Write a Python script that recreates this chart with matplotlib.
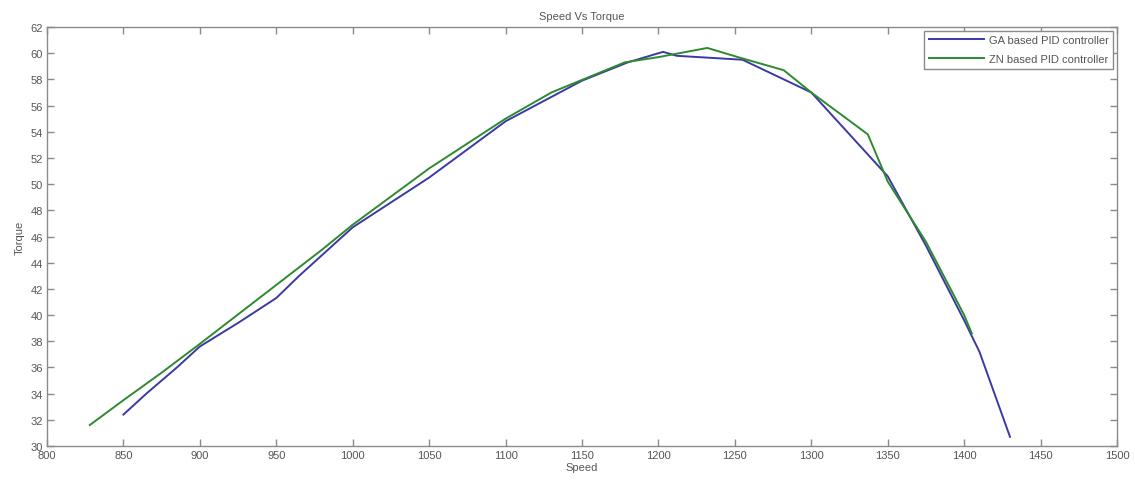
#!/usr/bin/env python3
"""
Speed Vs Torque: GA based vs ZN based PID controller.
Output: out.png (1135x481)
"""

import matplotlib
matplotlib.use('Agg')
import matplotlib.pyplot as plt

plt.rcParams['font.family'] = ['Liberation Sans', 'DejaVu Sans']
plt.rcParams['font.size'] = 8

# GA based PID controller (blue)
ga_speed = [850, 865, 885, 900, 925, 950, 965, 1000, 1050, 1100, 1150, 1180,
            1203, 1212, 1255, 1300, 1350, 1375, 1400, 1410, 1430]
ga_torque = [32.4, 34.0, 36.0, 37.6, 39.4, 41.3, 43.0, 46.7, 50.5, 54.8, 57.9, 59.3,
             60.1, 59.8, 59.5, 57.0, 50.6, 45.3, 39.6, 37.2, 30.7]

# ZN based PID controller (green)
zn_speed = [828, 850, 875, 900, 950, 980, 1000, 1050, 1100, 1130, 1178, 1200,
            1232, 1252, 1282, 1300, 1337, 1350, 1375, 1400, 1405]
zn_torque = [31.6, 33.5, 35.6, 37.8, 42.3, 45.0, 46.9, 51.2, 55.0, 57.0, 59.3, 59.7,
             60.4, 59.7, 58.7, 57.0, 53.8, 50.2, 45.6, 40.0, 38.6]

x_ticks = list(range(800, 1501, 50))
y_ticks = list(range(30, 63, 2))

AXIS_GRAY = '#8a8a8a'
TEXT_GRAY = '#555555'


def main():
    fig = plt.figure(figsize=(11.35, 4.81), dpi=100)
    ax = fig.add_axes([47 / 1135, 1 - 447 / 481, (1117 - 47) / 1135, (447 - 28) / 481])

    ax.plot(ga_speed, ga_torque, color='#3a3aa6', lw=1.4, label='GA based PID controller')
    ax.plot(zn_speed, zn_torque, color='#2f8a2f', lw=1.4, label='ZN based PID controller')

    ax.set_xlim(800, 1500)
    ax.set_ylim(30, 62)
    ax.set_xticks(x_ticks)
    ax.set_yticks(y_ticks)

    for side in ax.spines.values():
        side.set_color(AXIS_GRAY)
        side.set_linewidth(1.0)
    ax.tick_params(direction='in', length=5, width=1.0, color=AXIS_GRAY,
                   labelcolor=TEXT_GRAY, labelsize=8, top=True, right=True, pad=3)

    ax.set_title('Speed Vs Torque', fontsize=8, color=TEXT_GRAY, pad=6)
    ax.set_xlabel('Speed', fontsize=8, color=TEXT_GRAY, labelpad=1)
    ax.set_ylabel('Torque', fontsize=8, color=TEXT_GRAY, labelpad=4)

    leg = ax.legend(loc='upper right', fontsize=8, fancybox=False, framealpha=1,
                    edgecolor=AXIS_GRAY, handlelength=5.0, borderaxespad=0.35,
                    labelspacing=0.8, handletextpad=0.4)
    for t in leg.get_texts():
        t.set_color(TEXT_GRAY)

    fig.savefig('out.png', dpi=100, facecolor='white')
    plt.close(fig)


if __name__ == '__main__':
    main()
